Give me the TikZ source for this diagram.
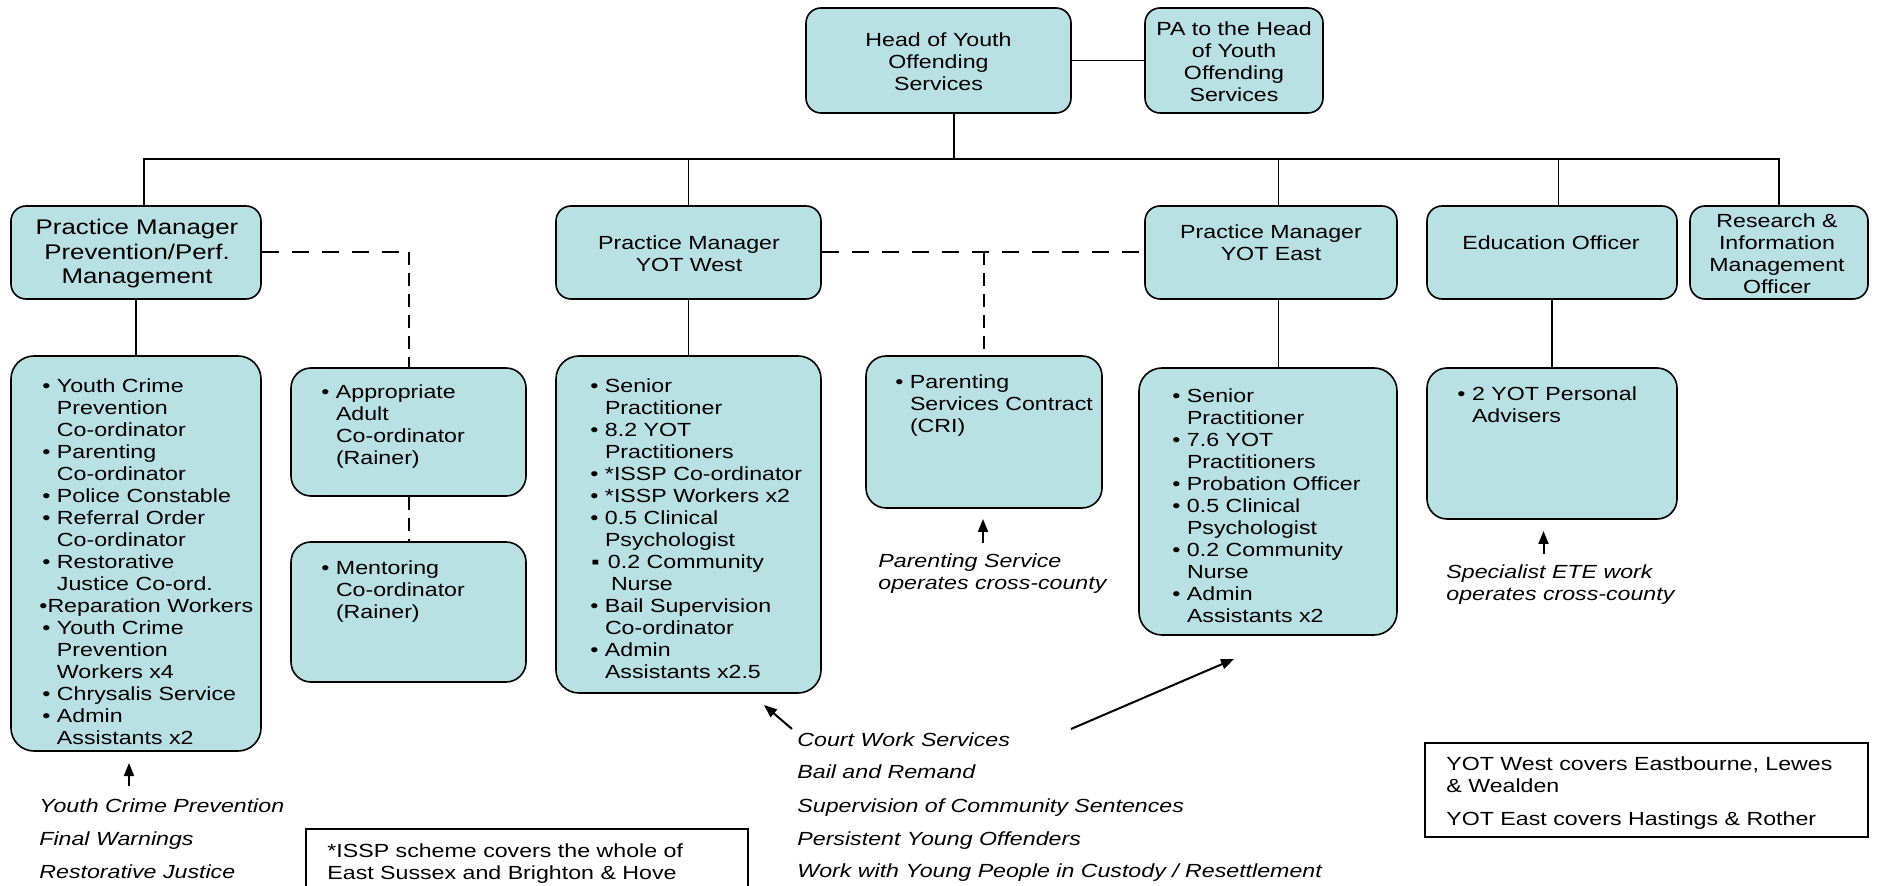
\documentclass[tikz,border=0pt]{standalone}
\usepackage{fontspec}
\setmainfont{Liberation Sans}[FakeStretch=1.22]
\usetikzlibrary{arrows.meta}
\definecolor{boxfill}{RGB}{185,224,227}
\newlength\bw \setlength\bw{7.3pt}
\newcommand\bl[1]{\hbox{\makebox[\bw][l]{•}#1}}
\newcommand\cl[1]{\hbox{\hspace*{\bw}#1}}
\newcommand\vlist[2][11pt]{\vtop{\baselineskip=#1\lineskiplimit=-30pt\lineskip=0pt #2}}
\tikzset{
  box/.style={draw, line width=0.8pt, fill=boxfill, rounded corners=7.5pt, inner sep=0pt},
  teambox/.style={box, rounded corners=11.5pt},
  plainbox/.style={draw, line width=0.8pt, inner sep=0pt},
  txt/.style={inner sep=0pt, font=\fontsize{9.5}{11}\selectfont},
  ctxt/.style={txt, align=center},
  itxt/.style={txt, font=\fontsize{9.5}{11}\selectfont\itshape},
  conn/.style={line width=0.85pt},
  hdash/.style={line width=1pt, dash pattern=on 8.5pt off 6.5pt},
  vdash/.style={line width=1pt, dash pattern=on 6.5pt off 4pt},
  arr/.style={line width=1pt, -{Triangle[length=6.5pt,width=5pt]}}
}
\begin{document}
\begin{tikzpicture}[x=0.5pt,y=-0.5pt]
\useasboundingbox (0,0) rectangle (1878,886);

% top boxes
\node[box, minimum width=132.5pt, minimum height=52.5pt] (head) at (938.5,60.5) {};
\node[box, minimum width=89pt, minimum height=52.5pt] (pa) at (1234,60.5) {};
\node[box, minimum width=125pt, minimum height=46.5pt] (pmprev) at (136,252.5) {};
\node[box, minimum width=132.5pt, minimum height=46.5pt] (pmwest) at (688.5,252.5) {};
\node[box, minimum width=126pt, minimum height=46.5pt] (pmeast) at (1271,252.5) {};
\node[box, minimum width=125pt, minimum height=46.5pt] (edu) at (1552,252.5) {};
\node[box, minimum width=89pt, minimum height=46.5pt] (research) at (1779,252.5) {};

% team boxes
\node[teambox, minimum width=125pt, minimum height=197.5pt] (prevteam) at (136,553.5) {};
\node[box, rounded corners=10pt, minimum width=117.5pt, minimum height=64pt] (aa) at (408.5,432) {};
\node[box, rounded corners=10pt, minimum width=117.5pt, minimum height=70pt] (mentor) at (408.5,612) {};
\node[teambox, minimum width=132.5pt, minimum height=168.5pt] (westteam) at (688.5,524.5) {};
\node[box, rounded corners=10pt, minimum width=118pt, minimum height=76pt] (parent) at (984,432) {};
\node[teambox, minimum width=129pt, minimum height=133.5pt] (eastteam) at (1268,501.5) {};
\node[box, rounded corners=10pt, minimum width=125pt, minimum height=75.5pt] (eduteam) at (1552,443.5) {};

% note boxes
\node[plainbox, minimum width=221pt, minimum height=45.5pt] (isspbox) at (527,874.5) {};
\node[plainbox, minimum width=221.5pt, minimum height=47pt] (legend) at (1646.5,790) {};

% top texts
\node[ctxt] (thead) at (938.5,62) {Head of Youth\\Offending\\Services};
\node[ctxt] (tpa) at (1234,62) {PA to the Head\\of Youth\\Offending\\Services};
\node[ctxt, font=\fontsize{10.6}{12.25}\selectfont] (tpmprev) at (137,254) {Practice Manager\\Prevention/Perf.\\Management};
\node[ctxt] (tpmwest) at (689,254) {Practice Manager\\YOT West};
\node[ctxt] (tpmeast) at (1271,242.5) {Practice Manager\\YOT East};
\node[ctxt] (tedu) at (1551,243) {Education Officer};
\node[ctxt] (tresearch) at (1777,254) {Research \&\\Information\\Management\\Officer};

% list texts
\node[txt, anchor=base west] (lprev) at (42,393) {\vlist{%
\bl{Youth Crime}
\cl{Prevention}
\cl{Co-ordinator}
\bl{Parenting}
\cl{Co-ordinator}
\bl{Police Constable}
\bl{Referral Order}
\cl{Co-ordinator}
\bl{Restorative}
\cl{Justice Co-ord.}
\hbox{\kern-1.5pt•Reparation Workers}
\bl{Youth Crime}
\cl{Prevention}
\cl{Workers x4}
\bl{Chrysalis Service}
\bl{Admin}
\cl{Assistants x2}}};

\node[txt, anchor=base west] (laa) at (321,399) {\vlist{%
\bl{Appropriate}
\cl{Adult}
\cl{Co-ordinator}
\cl{(Rainer)}}};

\node[txt, anchor=base west] (lmentor) at (321,575) {\vlist{%
\bl{Mentoring}
\cl{Co-ordinator}
\cl{(Rainer)}}};

\node[txt, anchor=base west] (lwest) at (590,393) {\vlist{%
\bl{Senior}
\cl{Practitioner}
\bl{8.2 YOT}
\cl{Practitioners}
\bl{*ISSP Co-ordinator}
\bl{*ISSP Workers x2}
\bl{0.5 Clinical}
\cl{Psychologist}
\hbox{\makebox[\bw][l]{\kern0.5pt▪}\kern1.5pt 0.2 Community}
\hbox{\hspace*{\bw}\kern3pt Nurse}
\bl{Bail Supervision}
\cl{Co-ordinator}
\bl{Admin}
\cl{Assistants x2.5}}};

\node[txt, anchor=base west] (lparent) at (895,389) {\vlist{%
\bl{Parenting}
\cl{Services Contract}
\cl{(CRI)}}};

\node[txt, anchor=base west] (least) at (1172,403) {\vlist{%
\bl{Senior}
\cl{Practitioner}
\bl{7.6 YOT}
\cl{Practitioners}
\bl{Probation Officer}
\bl{0.5 Clinical}
\cl{Psychologist}
\bl{0.2 Community}
\cl{Nurse}
\bl{Admin}
\cl{Assistants x2}}};

\node[txt, anchor=base west] (ledu) at (1457,401) {\vlist{%
\bl{2 YOT Personal}
\cl{Advisers}}};

% italic notes
\node[itxt, anchor=base west] (nprev) at (39,812) {\vlist[16.5pt]{%
\hbox{Youth Crime Prevention}
\hbox{Final Warnings}
\hbox{Restorative Justice}}};
\node[itxt, anchor=base west] (ncourt) at (797,746) {\vlist[16.5pt]{%
\hbox{Court Work Services}
\hbox{Bail and Remand}
\hbox{Supervision of Community Sentences}
\hbox{Persistent Young Offenders}
\hbox{Work with Young People in Custody / Resettlement}}};
\node[itxt, anchor=base west] (nparent) at (878,568) {\vlist{%
\hbox{Parenting Service}
\hbox{operates cross-county}}};
\node[itxt, anchor=base west] (nedu) at (1446,579) {\vlist{%
\hbox{Specialist ETE work}
\hbox{operates cross-county}}};

% box notes
\node[txt, anchor=base west] (tissp) at (327,857) {\vlist{%
\hbox{*ISSP scheme covers the whole of}
\hbox{East Sussex and Brighton \& Hove}}};
\node[txt, anchor=base west] (tlegend) at (1446,770) {\vlist{%
\hbox{YOT West covers Eastbourne, Lewes}
\hbox{\& Wealden}
\vskip5.5pt
\hbox{YOT East covers Hastings \& Rother}}};

% solid connectors
\coordinate (busL) at (144,159);
\coordinate (busR) at (1779,159);
\coordinate (busH) at (954,159);
\coordinate (eastX) at (1278.5,159);
\coordinate (eduX) at (1558.5,159);
\draw[conn] (head.south -| busH) -- (busH);
\draw[conn] (head.east) -- (pa.west);
\draw[conn] (pmprev.north -| busL) -- (busL) -- (busR) -- (research.north);
\draw[conn] (pmwest.north) -- (pmwest.north |- busL);
\draw[conn] (pmeast.north -| eastX) -- (eastX);
\draw[conn] (edu.north -| eduX) -- (eduX);
\draw[conn] (pmprev.south) -- (prevteam.north);
\draw[conn] (pmwest.south) -- (westteam.north);
\draw[conn] (pmeast.south -| eastX) -- (eastteam.north -| eastX);
\draw[conn] (edu.south) -- (eduteam.north);

% dashed connectors
\draw[hdash] (pmprev.east) -- (pmprev.east -| aa.north);
\draw[vdash] (pmprev.east -| aa.north) -- (aa.north);
\draw[vdash] (aa.south) -- (mentor.north);
\draw[hdash] (pmwest.east) -- (pmeast.west);
\draw[vdash] (pmwest.east -| parent.north) -- (parent.north);

% arrows
\coordinate (a1s) at (129,786); \coordinate (a1e) at (129,763);
\coordinate (a2s) at (983,543); \coordinate (a2e) at (983,519);
\coordinate (a3s) at (1543.5,554); \coordinate (a3e) at (1543.5,531);
\coordinate (a4s) at (792,729); \coordinate (a4e) at (764,705);
\coordinate (a5s) at (1071,729); \coordinate (a5e) at (1234,659);
\draw[arr] (a1s) -- (a1e);
\draw[arr] (a2s) -- (a2e);
\draw[arr] (a3s) -- (a3e);
\draw[arr] (a4s) -- (a4e);
\draw[arr] (a5s) -- (a5e);
\end{tikzpicture}
\end{document}
